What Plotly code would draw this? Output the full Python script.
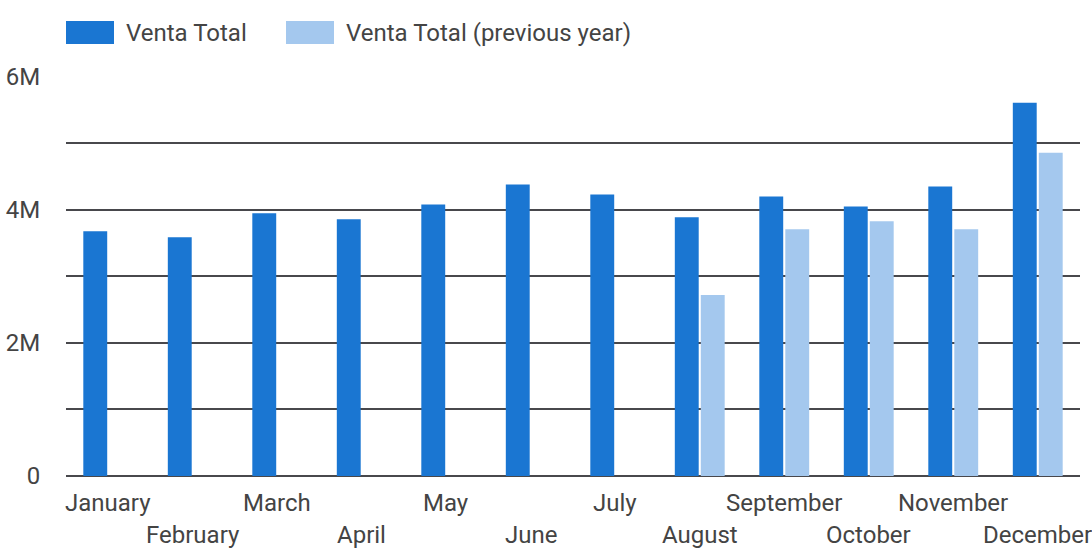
import plotly.graph_objects as go

months = ["January", "February", "March", "April", "May", "June",
          "July", "August", "September", "October", "November", "December"]
venta_total = [3.68e6, 3.59e6, 3.95e6, 3.86e6, 4.08e6, 4.38e6,
               4.23e6, 3.89e6, 4.20e6, 4.05e6, 4.35e6, 5.61e6]
venta_prev = [None, None, None, None, None, None,
              None, 2.72e6, 3.71e6, 3.83e6, 3.71e6, 4.86e6]
series_names = ["Venta Total", "Venta Total (previous year)"]
series_colors = ["#1A76D2", "#A4C8EE"]
y_tickvals = [0, 1e6, 2e6, 3e6, 4e6, 5e6, 6e6]
y_ticktext = ["0", "", "2M", "", "4M", "", "6M"]

W, H = 1092, 554
ML, MR, MT, MB = 66, 12, 76, 78
PW = W - ML - MR
PH = H - MT - MB
FONT = "Roboto, 'Open Sans', sans-serif"
TXT = "#444444"
FS = 24

fig = go.Figure()
fig.add_trace(go.Bar(x=months, y=venta_total, name=series_names[0],
                     marker=dict(color=series_colors[0], line=dict(width=0))))
fig.add_trace(go.Bar(x=months, y=venta_prev, name=series_names[1],
                     marker=dict(color=series_colors[1], line=dict(width=0))))

# staggered month labels
annotations = []
for i, m in enumerate(months):
    annotations.append(dict(
        x=m, xref="x", y=0, yref="paper", yanchor="middle", xanchor="center",
        yshift=-27 if i % 2 == 0 else -59, text=m, showarrow=False,
        font=dict(family=FONT, size=FS, color=TXT)))

# custom legend
def px_x(p):
    return (p - ML) / PW

def px_y(p):
    return (H - MB - p) / PH

shapes = []
legend_items = [(66, 114, 124), (286, 334, 344)]
for (x0, x1, tx), name, col in zip(legend_items, series_names, series_colors):
    shapes.append(dict(type="rect", xref="paper", yref="paper",
                       x0=px_x(x0), x1=px_x(x1), y0=px_y(44), y1=px_y(21),
                       fillcolor=col, line=dict(width=0)))
    annotations.append(dict(x=px_x(tx), xref="paper", y=px_y(33), yref="paper",
                            xanchor="left", yanchor="middle", text=name,
                            showarrow=False,
                            font=dict(family=FONT, size=FS, color=TXT)))

fig.update_layout(
    width=W, height=H,
    margin=dict(l=ML, r=MR, t=MT, b=MB, pad=0, autoexpand=False),
    paper_bgcolor="white", plot_bgcolor="white",
    barmode="group", bargap=0.385, bargroupgap=0.08,
    showlegend=False,
    font=dict(family=FONT, size=FS, color=TXT),
    shapes=shapes, annotations=annotations,
    xaxis=dict(type="category", range=[-0.5, len(months) - 0.5],
               showticklabels=False, showgrid=False, showline=False,
               zeroline=False, ticks="", automargin=False),
    yaxis=dict(range=[0, 6.012e6], tickvals=y_tickvals, ticktext=y_ticktext,
               showgrid=True, gridcolor="#48484c", gridwidth=1.5,
               zeroline=True, zerolinecolor="#48484c", zerolinewidth=1.5,
               showline=False, ticks="outside", ticklen=20,
               tickcolor="rgba(0,0,0,0)", automargin=False,
               tickfont=dict(family=FONT, size=FS, color=TXT)),
)

fig.write_html("out.html", config={"displayModeBar": False})

with open("out.html", "r", encoding="utf-8") as f:
    html = f.read()
html = html.replace("<head>", "<head><style>html,body{margin:0;padding:0;overflow:hidden;}</style>", 1)
with open("out.html", "w", encoding="utf-8") as f:
    f.write(html)
